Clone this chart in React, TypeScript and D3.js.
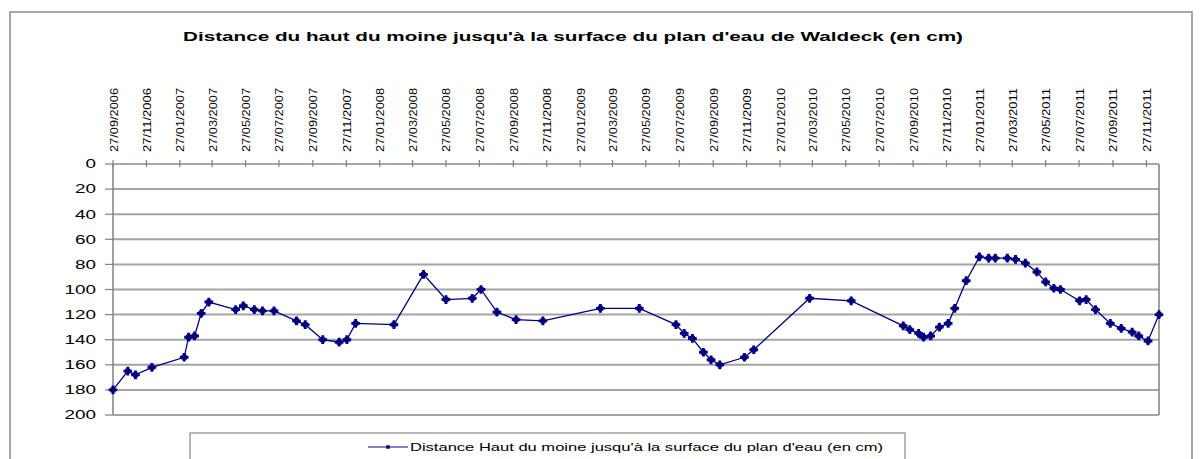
import React from "react";
import * as d3 from "d3";

// dates of the readings (dd/mm/yyyy) and the distance in cm
const dates = [
  "27/09/2006", "24/10/2006", "07/11/2006", "07/12/2006", "04/02/2007", "12/02/2007",
  "23/02/2007", "07/03/2007", "21/03/2007", "09/05/2007", "23/05/2007", "12/06/2007",
  "27/06/2007", "18/07/2007", "28/08/2007", "13/09/2007", "15/10/2007", "14/11/2007",
  "28/11/2007", "14/12/2007", "22/02/2008", "16/04/2008", "27/05/2008", "14/07/2008",
  "30/07/2008", "28/08/2008", "02/10/2008", "20/11/2008", "05/03/2009", "15/05/2009",
  "21/07/2009", "05/08/2009", "20/08/2009", "09/09/2009", "23/09/2009", "09/10/2009",
  "23/11/2009", "10/12/2009", "22/03/2010", "06/06/2010", "09/09/2010", "21/09/2010",
  "07/10/2010", "16/10/2010", "29/10/2010", "14/11/2010", "30/11/2010", "12/12/2010",
  "02/01/2011", "26/01/2011", "12/02/2011", "24/02/2011", "18/03/2011", "02/04/2011",
  "20/04/2011", "11/05/2011", "27/05/2011", "11/06/2011", "23/06/2011", "28/07/2011",
  "09/08/2011", "26/08/2011", "22/09/2011", "12/10/2011", "01/11/2011", "13/11/2011",
  "30/11/2011", "20/12/2011",
];
const distances = [
  180, 165, 168, 162, 154, 138,
  137, 119, 110, 116, 113, 116,
  117, 117, 125, 128, 140, 142,
  140, 127, 128, 88, 108, 107,
  100, 118, 124, 125, 115, 115,
  128, 135, 139, 150, 156, 160,
  154, 148, 107, 109, 129, 132,
  135, 138, 137, 130, 127, 115,
  93, 74, 75, 75, 75, 76,
  79, 86, 94, 99, 100, 109,
  108, 116, 127, 131, 134, 137,
  141, 120,
];
const tickLabels = [
  "27/09/2006", "27/11/2006", "27/01/2007", "27/03/2007", "27/05/2007", "27/07/2007",
  "27/09/2007", "27/11/2007", "27/01/2008", "27/03/2008", "27/05/2008", "27/07/2008",
  "27/09/2008", "27/11/2008", "27/01/2009", "27/03/2009", "27/05/2009", "27/07/2009",
  "27/09/2009", "27/11/2009", "27/01/2010", "27/03/2010", "27/05/2010", "27/07/2010",
  "27/09/2010", "27/11/2010", "27/01/2011", "27/03/2011", "27/05/2011", "27/07/2011",
  "27/09/2011", "27/11/2011",
];
const yTicks = [0, 20, 40, 60, 80, 100, 120, 140, 160, 180, 200];

const title = "Distance du haut du moine jusqu'à la surface du plan d'eau de Waldeck (en cm)";
const seriesName = "Distance Haut du moine jusqu'à la surface du plan d'eau (en cm)";

const parse = d3.timeParse("%d/%m/%Y");
const font = "'Liberation Sans', Arial, sans-serif";
const navy = "#000080";

export default function App() {
  const left = 113, right = 1159, top = 164, bottom = 415;
  const points = dates.map((d, i) => ({ date: parse(d) as Date, value: distances[i] }));

  const x = d3.scaleTime()
    .domain(d3.extent(points, (p) => p.date) as [Date, Date])
    .range([left, right]);
  const y = d3.scaleLinear().domain([0, 200]).range([top, bottom]);

  const line = d3.line<{ date: Date; value: number }>()
    .x((p) => x(p.date))
    .y((p) => y(p.value));
  // star-like blob: a small square with a cross over it
  const cross = d3.symbol().type(d3.symbolCross).size(42)() ?? "";
  const square = d3.symbol().type(d3.symbolSquare).size(26)() ?? "";

  return (
    <svg width={1200} height={459} style={{ position: "absolute", left: 0, top: 0, background: "#fff" }}>
      {/* outer chart frame */}
      <rect x={10} y={12} width={1182} height={460} fill="none" stroke="#8a8a8a" strokeWidth={1.5} />

      <text x={183} y={41} fontFamily={font} fontWeight="bold" fontSize={12.5}
        textLength={780} lengthAdjust="spacingAndGlyphs">{title}</text>

      {/* gridlines */}
      {yTicks.map((t) => (
        <line key={"g" + t} x1={left} x2={right} y1={y(t)} y2={y(t)}
          stroke={t === 0 ? "#888" : "#a4a4a4"} strokeWidth={t === 0 ? 1.5 : 2} />
      ))}
      <line x1={left} x2={left} y1={top} y2={bottom} stroke="#808080" strokeWidth={1.5} />
      <line x1={right} x2={right} y1={top} y2={bottom} stroke="#808080" strokeWidth={1.5} />

      {/* y axis */}
      {yTicks.map((t) => (
        <g key={"y" + t}>
          <line x1={left - 8} x2={left} y1={y(t)} y2={y(t)} stroke="#808080" strokeWidth={1.2} />
          <text x={96} y={y(t)} dy="0.36em" textAnchor="end" fontFamily={font} fontSize={12}
            textLength={String(t).length * 10.5} lengthAdjust="spacingAndGlyphs">{t}</text>
        </g>
      ))}

      {/* x axis (dates on top) */}
      {tickLabels.map((l) => {
        const tx = x(parse(l) as Date);
        return (
          <g key={l}>
            <line x1={tx} x2={tx} y1={top - 4} y2={top + 3} stroke="#808080" strokeWidth={1.2} />
            <text transform={`translate(${tx + 4.5},152) rotate(-90)`} fontFamily={font} fontSize={11.5}
              textLength={64} lengthAdjust="spacingAndGlyphs">{l}</text>
          </g>
        );
      })}

      {/* series */}
      <path d={line(points) ?? ""} fill="none" stroke={navy} strokeWidth={1.3} />
      {points.map((p, i) => (
        <g key={i} transform={`translate(${x(p.date)},${y(p.value)})`} fill={navy}>
          <path d={square} />
          <path d={cross} />
        </g>
      ))}

      {/* legend */}
      <rect x={190} y={433} width={715} height={40} fill="none" stroke="#8a8a8a" strokeWidth={1.2} />
      <line x1={368} x2={408} y1={447} y2={447} stroke="#5a5aaa" strokeWidth={1.5} />
      <path d={d3.symbol().type(d3.symbolSquare).size(12)() ?? ""} transform="translate(388,447)" fill={navy} />
      <text x={410} y={451} fontFamily={font} fontSize={11}
        textLength={473} lengthAdjust="spacingAndGlyphs">{seriesName}</text>
    </svg>
  );
}
